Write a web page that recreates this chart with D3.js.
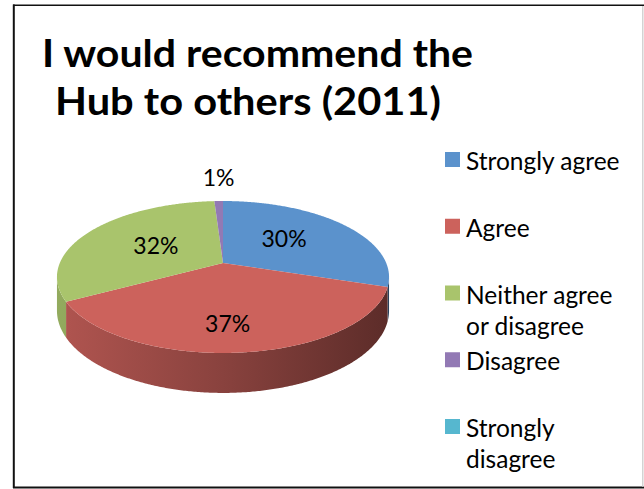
<!DOCTYPE html>
<html>
<head>
<meta charset="utf-8">
<script src="https://cdn.jsdelivr.net/npm/d3@7/dist/d3.min.js"></script>
<style>
  html, body { margin: 0; padding: 0; background: #ffffff; }
  svg { display: block; }
  text { font-family: Lato, "Open Sans", sans-serif; fill: #000; }
</style>
</head>
<body>
<svg id="chart" width="644" height="489"></svg>
<script>
// ---- data ----
const categories = ["Strongly agree", "Agree", "Neither agree or disagree", "Disagree", "Strongly disagree"];
const legendLines = [["Strongly agree"], ["Agree"], ["Neither agree", "or disagree"], ["Disagree"], ["Strongly", "disagree"]];
const values = [30, 37, 32, 1, 0];
const colors = ["#5b92cc", "#cc625c", "#a9c46c", "#9279b4", "#56b7cf"];
const titleLines = ["I would recommend the", "Hub to others (2011)"];

const svg = d3.select("#chart");

// ---- chart frame ----
const frame = svg.append("g");
frame.append("line").attr("x1", 13.8).attr("y1", 4.5).attr("x2", 13.8).attr("y2", 488)
  .attr("stroke", "#111").attr("stroke-width", 2);
frame.append("line").attr("x1", 13).attr("y1", 5.2).attr("x2", 644).attr("y2", 5.2)
  .attr("stroke", "#111").attr("stroke-width", 1.6);
frame.append("line").attr("x1", 13).attr("y1", 487.6).attr("x2", 644).attr("y2", 487.6)
  .attr("stroke", "#111").attr("stroke-width", 2);
frame.append("line").attr("x1", 642.8).attr("y1", 6).attr("x2", 642.8).attr("y2", 487)
  .attr("stroke", "#c8c8c8").attr("stroke-width", 1.2);

// ---- title ----
const title = svg.append("g");
title.append("text").attr("x", 42).attr("y", 67)
  .attr("font-size", 38).attr("font-weight", 700)
  .attr("textLength", 431).attr("lengthAdjust", "spacingAndGlyphs")
  .text(titleLines[0]);
title.append("text").attr("x", 55).attr("y", 115)
  .attr("font-size", 38).attr("font-weight", 700)
  .attr("textLength", 386).attr("lengthAdjust", "spacingAndGlyphs")
  .text(titleLines[1]);

// ---- 3-D pie: a tilted disc seen with a light perspective ----
const cx = 223, cy = 263;      // projected centre of the disc
const a = 163.2, b = 73.4;     // horizontal / vertical radius before perspective
const k = 0.1842;              // perspective strength (back of the disc is further away)
const D = 32.6;                // thickness of the disc
const STEP = Math.PI / 360;

function proj(theta, r = 1) {
  const u = r * Math.sin(theta), v = r * Math.cos(theta), w = 1 + k * v;
  return [cx + a * u / w, cy - b * v / w];
}
function thick(theta) { return D / (1 + k * Math.cos(theta)); }
function arcPoints(t0, t1) {
  const pts = [];
  const n = Math.max(1, Math.ceil((t1 - t0) / STEP));
  for (let i = 0; i <= n; i++) pts.push(t0 + (t1 - t0) * i / n);
  return pts;
}

const arcs = d3.pie().sort(null).value(d => d)(values);

// the wall is visible between the two silhouette angles
const thetaR = Math.acos(-k), thetaL = 2 * Math.PI - thetaR;
const xLeft = cx - a / Math.sqrt(1 - k * k), xRight = cx + a / Math.sqrt(1 - k * k);

const defs = svg.append("defs");
const shade = (c, f) => { const o = d3.rgb(c); return d3.rgb(o.r * f, o.g * f, o.b * f).formatHex(); };
colors.forEach((c, i) => {
  const g = defs.append("linearGradient").attr("id", "side" + i)
    .attr("gradientUnits", "userSpaceOnUse")
    .attr("x1", xLeft).attr("x2", xRight).attr("y1", 0).attr("y2", 0);
  g.append("stop").attr("offset", 0).attr("stop-color", shade(c, 0.87));
  g.append("stop").attr("offset", 0.5).attr("stop-color", shade(c, 0.67));
  g.append("stop").attr("offset", 1).attr("stop-color", shade(c, 0.45));
});

const line = d3.line();
const pieG = svg.append("g");

// front walls of each slice
const sides = arcs.map(d => {
  const s = Math.max(d.startAngle, thetaR), e = Math.min(d.endAngle, thetaL);
  if (e <= s) return null;
  const ts = arcPoints(s, e);
  const top = ts.map(t => proj(t));
  const bot = ts.slice().reverse().map(t => { const p = proj(t); return [p[0], p[1] + thick(t)]; });
  return top.concat(bot);
});
pieG.selectAll("path.side").data(arcs).enter().append("path")
  .attr("class", "side")
  .attr("d", (d, i) => sides[i] ? line(sides[i]) + "Z" : null)
  .attr("fill", (d, i) => "url(#side" + i + ")");

// top faces
const tops = arcs.map(d => {
  if (d.endAngle <= d.startAngle) return null;
  return [[cx, cy]].concat(arcPoints(d.startAngle, d.endAngle).map(t => proj(t)));
});
pieG.selectAll("path.top").data(arcs).enter().append("path")
  .attr("class", "top")
  .attr("d", (d, i) => tops[i] ? line(tops[i]) + "Z" : null)
  .attr("fill", (d, i) => colors[i]);

// ---- percentage labels ----
const total = d3.sum(values);
const fmt = v => Math.round(v / total * 100) + "%";
function labelPos(d, i) {
  if (d.value / total < 0.05) {
    // thin slices get their label just outside the rim
    const p = proj((d.startAngle + d.endAngle) / 2);
    return [p[0], p[1] - 23];
  }
  // area-weighted centre of the visible parts of the slice
  let A = 0, X = 0, Y = 0;
  [tops[i], sides[i]].forEach(poly => {
    if (!poly) return;
    const ar = Math.abs(d3.polygonArea(poly)), c = d3.polygonCentroid(poly);
    A += ar; X += ar * c[0]; Y += ar * c[1];
  });
  return [cx + 0.8 * (X / A - cx), Y / A - 5];
}
svg.append("g").selectAll("text").data(arcs.filter(d => d.value > 0)).enter().append("text")
  .attr("text-anchor", "middle")
  .attr("font-size", 23)
  .attr("x", d => labelPos(d, d.index)[0])
  .attr("y", d => labelPos(d, d.index)[1] + 8)
  .text(d => fmt(d.value));

// ---- legend ----
const legend = svg.append("g").attr("transform", "translate(445,152)");
const rowStep = 66.75;
const rows = legend.selectAll("g").data(categories).enter().append("g")
  .attr("transform", (d, i) => `translate(0,${i * rowStep})`);
rows.append("rect").attr("width", 15).attr("height", 15)
  .attr("fill", (d, i) => colors[i]);
rows.append("text").attr("x", 21).attr("y", 18).attr("font-size", 24.5)
  .selectAll("tspan").data((d, i) => legendLines[i]).enter().append("tspan")
  .attr("x", 21).attr("dy", (d, j) => j === 0 ? 0 : 31)
  .text(d => d);
</script>
</body>
</html>
